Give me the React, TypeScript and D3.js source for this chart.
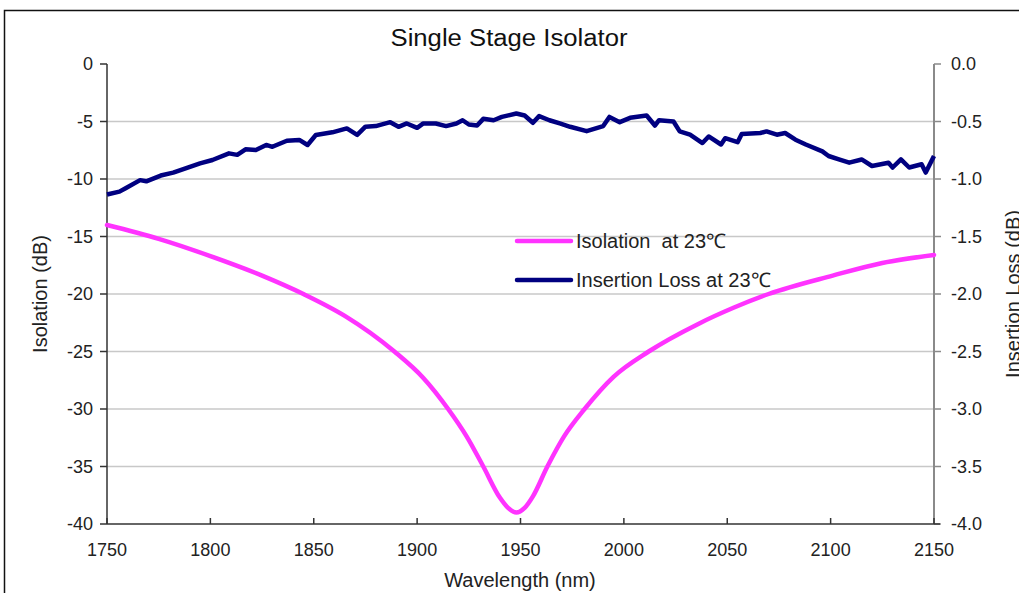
import React from "react";
import * as d3 from "d3";

const W = 1019;
const H = 593;

const xTicks = [1750, 1800, 1850, 1900, 1950, 2000, 2050, 2100, 2150];
const yLeftTicks = [0, -5, -10, -15, -20, -25, -30, -35, -40];
const yRightTicks = [0, -0.5, -1.0, -1.5, -2.0, -2.5, -3.0, -3.5, -4.0];

const isoWavelength = [1750, 1775, 1800, 1825, 1845, 1865, 1889, 1903, 1915, 1924, 1932, 1940, 1944, 1948, 1952, 1956, 1963, 1971, 1981, 1995, 2012, 2036, 2053, 2070, 2101, 2125, 2150];
const isolation = [-14.0, -15.2, -16.7, -18.4, -20.0, -21.9, -25.0, -27.3, -30.0, -32.4, -35.0, -37.7, -38.6, -39.0, -38.6, -37.6, -35.0, -32.4, -30.0, -27.2, -25.0, -22.6, -21.2, -20.0, -18.4, -17.3, -16.6];

const ilWavelength = [1750, 1756, 1759, 1766, 1769, 1776, 1782, 1788, 1795, 1801, 1809, 1813, 1817, 1822, 1827, 1830, 1837, 1843, 1847, 1851, 1859, 1866, 1871, 1875, 1880, 1887, 1891, 1895, 1900, 1903, 1909, 1914, 1919, 1922, 1925, 1929, 1932, 1937, 1941, 1948, 1952, 1956, 1959, 1964, 1969, 1974, 1982, 1990, 1993, 1998, 2003, 2011, 2015, 2017, 2024, 2027, 2032, 2038, 2041, 2047, 2049, 2055, 2057, 2066, 2069, 2074, 2078, 2083, 2088, 2096, 2099, 2104, 2109, 2115, 2120, 2128, 2130, 2134, 2138, 2144, 2146, 2150];
const insertionLoss = [-1.135, -1.11, -1.08, -1.01, -1.02, -0.97, -0.945, -0.907, -0.864, -0.835, -0.777, -0.79, -0.742, -0.748, -0.704, -0.72, -0.667, -0.66, -0.704, -0.617, -0.594, -0.56, -0.617, -0.545, -0.54, -0.506, -0.546, -0.517, -0.555, -0.517, -0.517, -0.54, -0.517, -0.489, -0.526, -0.535, -0.477, -0.489, -0.46, -0.43, -0.448, -0.511, -0.453, -0.489, -0.517, -0.546, -0.584, -0.54, -0.46, -0.506, -0.468, -0.448, -0.535, -0.489, -0.5, -0.586, -0.615, -0.687, -0.63, -0.7, -0.645, -0.68, -0.608, -0.6, -0.586, -0.615, -0.6, -0.658, -0.7, -0.76, -0.8, -0.83, -0.858, -0.83, -0.887, -0.858, -0.9, -0.83, -0.9, -0.872, -0.944, -0.8];

const title = "Single Stage Isolator";
const xTitle = "Wavelength (nm)";
const yLeftTitle = "Isolation (dB)";
const yRightTitle = "Insertion Loss (dB)";
const legendLabels = ["Isolation  at 23\u2103", "Insertion Loss at 23\u2103"];
const colors = ["#ff33ff", "#000080"];

const FONT = "'Liberation Sans', Arial, sans-serif";
const TXT = "#222";

export default function App() {
  const left = 107, right = 934, top = 64, bottom = 524;
  const x = d3.scaleLinear().domain([1750, 2150]).range([left, right]);
  const yL = d3.scaleLinear().domain([-40, 0]).range([bottom, top]);
  const yR = d3.scaleLinear().domain([-4, 0]).range([bottom, top]);

  const isoLine = d3.line<number>()
    .x((_, i) => x(isoWavelength[i]))
    .y((d) => yL(d))
    .curve(d3.curveMonotoneX);
  const ilLine = d3.line<number>()
    .x((_, i) => x(ilWavelength[i]))
    .y((d) => yR(d))
    .curve(d3.curveLinear);

  return (
    <svg width={W} height={H} style={{ position: "absolute", left: 0, top: 0, background: "#fff" }} fontFamily={FONT}>
      <rect x={0} y={0} width={W} height={H} fill="#fff" />
      <path d={`M4.5,${H} L4.5,10.5 L${W},10.5`} fill="none" stroke="#111" strokeWidth={1.5} />

      {yLeftTicks.filter((t) => t !== 0 && t !== -40).map((t) => (
        <line key={t} x1={left} x2={right} y1={yL(t)} y2={yL(t)} stroke="#c8c8c8" strokeWidth={1.5} />
      ))}

      <line x1={left} x2={left} y1={top} y2={bottom} stroke="#333" strokeWidth={1.5} />
      {yLeftTicks.map((t) => (
        <g key={t}>
          <line x1={left - 7} x2={left} y1={yL(t)} y2={yL(t)} stroke="#333" strokeWidth={1.5} />
          <text x={93} y={yL(t)} dy="0.36em" textAnchor="end" fontSize={18} fill={TXT}>{t}</text>
        </g>
      ))}

      <line x1={right} x2={right} y1={top} y2={bottom} stroke="#8a8a8a" strokeWidth={2} />
      {yRightTicks.map((t) => (
        <g key={t}>
          <line x1={right} x2={right + 7} y1={yR(t)} y2={yR(t)} stroke="#8a8a8a" strokeWidth={1.5} />
          <text x={951} y={yR(t)} dy="0.36em" textAnchor="start" fontSize={18} fill={TXT}>{t.toFixed(1)}</text>
        </g>
      ))}

      <line x1={left} x2={right + 6} y1={bottom} y2={bottom} stroke="#333" strokeWidth={1.5} />
      {xTicks.map((t) => (
        <g key={t}>
          <line x1={x(t)} x2={x(t)} y1={bottom - 6} y2={bottom} stroke="#333" strokeWidth={1.5} />
          <text x={x(t)} y={556} textAnchor="middle" fontSize={18} fill={TXT}>{t}</text>
        </g>
      ))}

      <path d={ilLine(insertionLoss) || ""} fill="none" stroke={colors[1]} strokeWidth={4.5} strokeLinejoin="round" />
      <path d={isoLine(isolation) || ""} fill="none" stroke={colors[0]} strokeWidth={4.5} strokeLinejoin="round" strokeLinecap="round" />

      {legendLabels.map((lab, i) => (
        <g key={lab}>
          <line x1={517} x2={571} y1={241 + i * 39} y2={241 + i * 39} stroke={colors[i]} strokeWidth={4.5} strokeLinecap="round" />
          <text x={576} y={241 + i * 39} dy="0.36em" fontSize={20} fill={TXT} style={{ whiteSpace: "pre" }}>{lab}</text>
        </g>
      ))}

      <text x={509} y={46} textAnchor="middle" fontSize={23} fill="#111" textLength={237} lengthAdjust="spacingAndGlyphs">{title}</text>
      <text x={520} y={587} textAnchor="middle" fontSize={20} fill={TXT}>{xTitle}</text>
      <text transform={`translate(47,${(top + bottom) / 2}) rotate(-90)`} textAnchor="middle" fontSize={20} fill={TXT}>{yLeftTitle}</text>
      <text transform={`translate(1020,${(top + bottom) / 2}) rotate(-90)`} textAnchor="middle" fontSize={20} fill={TXT}>{yRightTitle}</text>
    </svg>
  );
}
